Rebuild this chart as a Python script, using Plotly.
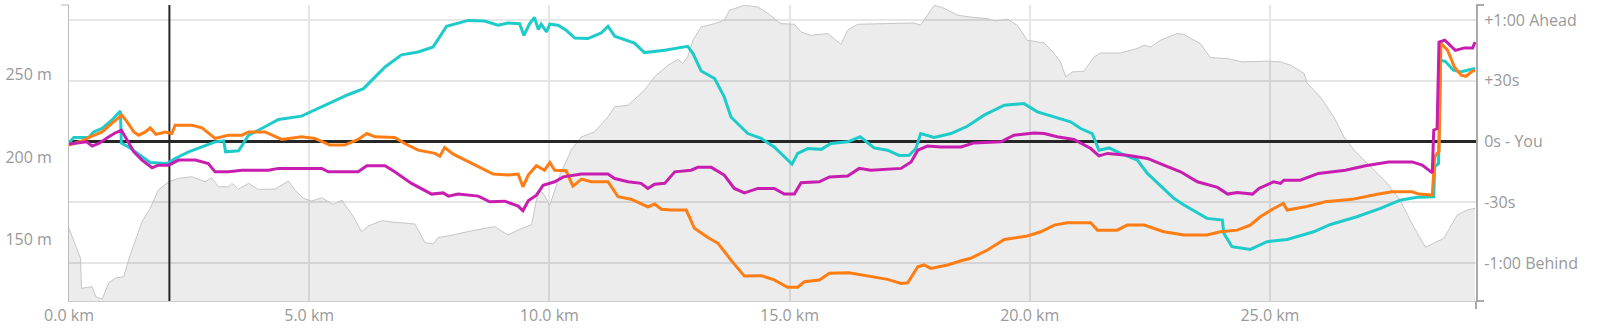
import plotly.graph_objects as go

# Elevation profile along the route
elev_km = [0.0, 0.24, 0.26, 0.48, 0.56, 0.69, 0.83, 0.96, 1.14, 1.24, 1.41, 1.52, 1.69, 1.86,
           2.07, 2.28, 2.56, 2.83, 2.97, 3.11, 3.32, 3.39, 3.53, 3.74, 3.94, 4.29, 4.39, 4.57,
           4.70, 4.88, 5.05, 5.26, 5.50, 5.68, 5.92, 6.09, 6.23, 6.51, 6.78, 7.20, 7.41, 7.58,
           7.69, 7.89, 8.38, 8.86, 9.14, 9.35, 9.63, 9.73, 9.80, 9.87, 10.01, 10.23, 10.47,
           10.67, 10.94, 11.22, 11.36, 11.64, 11.98, 12.19, 12.47, 12.68, 12.78, 12.88, 12.99,
           13.16, 13.44, 13.64, 13.75, 14.06, 14.34, 14.55, 14.82, 15.10, 15.24, 15.45, 15.79,
           16.07, 16.21, 16.42, 17.59, 17.73, 18.01, 18.19, 18.50, 18.84, 19.12, 19.26, 19.54,
           19.74, 19.95, 20.30, 20.51, 20.64, 20.75, 20.89, 21.13, 21.34, 21.48, 21.89, 22.10,
           22.24, 22.38, 22.52, 22.72, 22.93, 23.07, 23.20, 23.35, 23.55, 23.76, 24.11, 24.42,
           24.94, 25.22, 25.43, 25.71, 25.78, 26.05, 26.33, 26.54, 26.75, 27.10, 27.30, 27.44,
           27.71, 27.99, 28.24, 28.34, 28.62, 28.90, 29.10, 29.27]
elev_m = [156.8, 138.6, 120.4, 121.4, 115.3, 113.8, 123.8, 126.5, 127.5, 137.6, 151.7, 160.8, 168.9, 180.0,
          185.0, 187.1, 188.1, 185.0, 187.5, 182.0, 182.0, 184.1, 180.6, 184.1, 180.4, 180.6, 182.4, 185.5,
          180.0, 175.0, 173.3, 175.3, 171.3, 173.9, 163.8, 154.7, 158.2, 161.4, 160.5, 159.4, 148.1, 147.3,
          151.3, 152.1, 155.3, 157.8, 152.7, 155.8, 159.0, 174.0, 179.5, 178.0, 170.9, 190.0, 205.0,
          212.3, 215.3, 224.4, 230.5, 231.5, 240.6, 248.7, 255.8, 259.2, 256.8, 260.8, 270.9,
          279.0, 281.0, 283.0, 289.1, 292.1, 291.1, 287.1, 281.0, 280.6, 275.9, 273.9, 275.0,
          268.5, 277.0, 280.6, 281.4, 280.0, 292.1, 290.7, 286.1, 284.7, 284.1, 282.6, 283.6,
          280.0, 270.9, 269.3, 262.8, 257.8, 248.7, 251.7, 252.1, 260.8, 263.2, 263.2, 264.8,
          265.9, 267.9, 266.8, 270.9, 273.3, 275.0, 274.5, 271.9, 268.9, 260.4, 259.8, 257.8,
          258.2, 257.8, 255.8, 250.7, 244.7, 236.5, 224.4, 212.3, 204.2, 194.1, 188.1, 184.1,
          173.9, 157.8, 145.3, 146.7, 150.7, 164.9, 167.9, 168.9]

# Time gap to you (seconds, positive = ahead)
teal_km = [0.0, 0.10, 0.41, 0.51, 0.69, 0.89, 1.07, 1.09, 1.24, 1.45, 1.69, 2.04, 2.21, 2.49,
           2.77, 3.04, 3.22, 3.26, 3.53, 3.74, 4.01, 4.36, 4.84, 5.26, 5.82, 6.13, 6.30, 6.58,
           6.92, 7.27, 7.58, 7.86, 8.31, 8.65, 8.93, 9.14, 9.38, 9.47, 9.59, 9.69, 9.77, 9.83,
           9.94, 10.01, 10.18, 10.35, 10.53, 10.80, 11.08, 11.22, 11.36, 11.77, 11.98, 12.40,
           12.88, 12.99, 13.16, 13.44, 13.64, 13.78, 14.13, 14.41, 14.68, 14.89, 15.05, 15.17,
           15.38, 15.66, 15.86, 16.21, 16.47, 16.76, 17.04, 17.28, 17.49, 17.63, 17.73, 18.01,
           18.36, 18.70, 19.05, 19.47, 19.88, 20.16, 20.51, 20.85, 21.06, 21.30, 21.44, 21.65,
           21.89, 22.24, 22.45, 22.72, 23.00, 23.21, 23.69, 24.01, 24.04, 24.21, 24.59, 24.94,
           25.36, 25.91, 26.26, 26.81, 27.30, 27.71, 28.06, 28.41, 28.43, 28.51, 28.52, 28.55,
           28.65, 28.82, 28.96, 29.17, 29.27]
teal_gap = [-0.7, 2.0, 2.0, 4.7, 6.4, 10.5, 15.0, -0.8, -2.7, -6.3, -10.4, -10.9, -8.4, -5.1,
            -2.7, -0.2, 0.3, -5.1, -4.6, 3.1, 6.4, 10.9, 12.5, 17.1, 23.2, 26.1, 30.2, 36.8,
            42.8, 44.2, 46.7, 56.9, 59.8, 59.5, 57.4, 58.5, 58.2, 52.4, 58.2, 61.2, 55.3, 57.9,
            54.1, 57.9, 57.4, 54.9, 51.1, 50.8, 53.6, 56.9, 52.0, 48.6, 43.9, 45.0,
            47.0, 43.4, 34.8, 31.1, 22.0, 12.1, 3.9, 1.5, -2.7, -7.6, -11.2, -5.9,
            -3.5, -3.9, -1.0, -0.2, 2.3, -3.2, -4.3, -6.9, -6.8, -3.5, 3.9, 2.0,
            3.9, 7.5, 13.0, 17.9, 18.7, 14.6, 12.1, 9.7, 6.4, 3.9, -4.3, -3.2,
            -5.9, -9.2, -15.8, -21.6, -28.1, -31.4, -38.0, -38.8, -45.4, -52.0, -53.3, -49.5,
            -48.4, -44.6, -41.0, -37.2, -33.1, -29.0, -27.6, -27.3, -12.5, -10.9, 2.3, 40.1,
            39.6, 35.2, 34.3, 35.2, 36.0]

orange_km = [0.0, 0.10, 0.27, 0.44, 0.69, 0.89, 1.10, 1.21, 1.35, 1.45, 1.59, 1.69, 1.81, 2.00,
             2.14, 2.21, 2.56, 2.77, 3.04, 3.32, 3.60, 3.74, 4.08, 4.43, 4.84, 5.12, 5.43, 5.74,
             6.02, 6.20, 6.37, 6.78, 6.99, 7.27, 7.62, 7.72, 7.82, 8.00, 8.31, 8.59, 8.83, 9.14,
             9.35, 9.45, 9.56, 9.73, 9.90, 10.01, 10.11, 10.35, 10.49, 10.67, 10.87, 11.22,
             11.43, 11.70, 12.05, 12.19, 12.33, 12.54, 12.85, 13.02, 13.30, 13.51, 13.78, 14.06,
             14.41, 14.68, 14.96, 15.17, 15.31, 15.62, 15.83, 16.24, 16.42, 16.69, 17.04, 17.32,
             17.46, 17.67, 17.80, 17.94, 18.29, 18.57, 18.77, 19.12, 19.47, 19.95, 20.23, 20.51,
             20.78, 21.27, 21.41, 21.82, 22.03, 22.38, 22.58, 22.79, 23.21, 23.69, 23.97, 24.32,
             24.59, 24.80, 25.08, 25.28, 25.36, 25.74, 26.15, 26.71, 27.26, 27.54, 27.96, 28.10,
             28.38, 28.43, 28.48, 28.52, 28.56, 28.70, 28.84, 28.98, 29.08, 29.19, 29.27]
orange_gap = [-1.8, -1.0, 0.3, 2.3, 4.7, 8.9, 13.0, 9.7, 4.7, 3.1, 4.7, 6.7, 3.5, 4.7,
              3.9, 8.0, 8.0, 6.7, 1.5, 3.1, 3.1, 4.7, 4.7, 1.0, 2.3, 1.5, -1.8, -1.8,
              1.0, 3.9, 2.3, 2.0, -1.0, -4.3, -5.9, -7.3, -3.0, -6.3, -10.1, -13.3, -16.1, -16.6,
              -16.1, -22.4, -16.6, -12.0, -14.2, -10.4, -14.2, -14.5, -22.1, -18.6, -19.9, -19.9,
              -27.3, -28.5, -32.3, -30.9, -33.5, -33.9, -33.9, -42.9, -47.4, -50.3, -58.6, -66.5,
              -66.3, -68.4, -72.0, -72.0, -69.3, -68.4, -65.1, -64.8, -65.5, -66.8, -68.1, -70.1,
              -69.8, -61.9, -61.0, -62.7, -61.0, -58.9, -57.7, -53.6, -48.4, -46.7, -44.6, -41.3,
              -40.2, -40.2, -43.8, -43.8, -41.3, -41.3, -42.9, -44.6, -46.2, -46.2, -44.6, -43.8,
              -41.3, -37.2, -33.1, -30.6, -33.9, -32.3, -29.8, -28.6, -26.0, -24.9, -24.9, -26.0,
              -26.5, -7.6, -5.9, -5.0, 48.5, 45.0, 36.8, 32.7, 32.2, 34.3, 35.2]

magenta_km = [0.0, 0.27, 0.37, 0.48, 0.62, 0.83, 0.96, 1.09, 1.17, 1.35, 1.52, 1.73, 1.86, 2.07,
              2.28, 2.63, 2.90, 3.04, 3.32, 3.60, 4.15, 4.36, 5.26, 5.40, 6.02, 6.20, 6.58, 6.78,
              7.13, 7.55, 7.79, 7.90, 8.10, 8.52, 8.76, 9.07, 9.35, 9.45, 9.56, 9.73, 9.87, 10.11,
              10.29, 10.67, 11.22, 11.36, 11.64, 11.91, 12.05, 12.19, 12.40, 12.61, 12.95, 13.09,
              13.37, 13.64, 13.85, 14.06, 14.34, 14.68, 14.89, 15.10, 15.24, 15.62, 15.83, 16.21,
              16.45, 16.69, 17.32, 17.53, 17.67, 17.87, 18.15, 18.57, 18.84, 19.40, 19.67, 20.09,
              20.30, 20.57, 20.92, 21.27, 21.44, 21.62, 22.03, 22.45, 22.79, 23.14, 23.49, 23.91,
              24.12, 24.32, 24.64, 24.77, 25.08, 25.22, 25.29, 25.63, 26.01, 26.57, 26.99, 27.47,
              27.96, 28.17, 28.38, 28.41, 28.48, 28.52, 28.64, 28.70, 28.86, 29.05, 29.22, 29.27]
magenta_gap = [-1.3, -0.7, -0.2, -2.3, -1.0, 2.3, 4.2, 5.6, 2.3, -5.1, -9.2, -13.0, -11.7, -11.7,
               -9.2, -9.2, -10.9, -15.0, -15.0, -14.2, -14.2, -13.3, -13.3, -15.0, -15.0, -12.0, -12.0, -15.0,
               -20.7, -26.0, -25.4, -27.0, -26.0, -27.0, -29.8, -29.5, -31.9, -34.2, -29.3, -26.5, -21.6, -19.9,
               -17.5, -16.1, -16.1, -18.3, -19.9, -20.7, -23.2, -21.1, -20.7, -15.0, -14.2, -12.8,
               -12.8, -16.6, -23.2, -25.4, -23.2, -23.2, -26.0, -26.0, -20.4, -19.9, -17.5, -17.1,
               -13.3, -14.2, -13.3, -10.1, -4.3, -2.3, -2.7, -2.7, -0.7, -0.2, 3.1, 4.2,
               3.9, 2.3, 1.0, -3.5, -7.1, -5.9, -6.8, -8.4, -11.7, -15.0, -19.9, -22.7,
               -26.0, -25.2, -26.0, -23.2, -19.9, -20.7, -19.1, -19.1, -15.8, -14.2, -12.0, -10.1,
               -10.1, -11.7, -15.5, 5.6, 6.4, 49.1, 50.0, 48.6, 45.0, 46.2, 46.2, 49.1]

# Current position cursor
cursor_km = 2.09

x_ticks = [0, 5, 10, 15, 20, 25]
x_tick_text = ["0.0 km", "5.0 km", "10.0 km", "15.0 km", "20.0 km", "25.0 km"]
elev_ticks = [150, 200, 250]
elev_tick_text = ["150 m", "200 m", "250 m"]
gap_ticks = [60, 30, 0, -30, -60]
gap_tick_text = ["+1:00 Ahead", "+30s", "0s - You", "-30s", "-1:00 Behind"]

X_RANGE = [0, 29.29]
ELEV_RANGE = [112.7, 292.3]
GAP_RANGE = [-78.8, 67.4]

W, H = 1601, 334
M = dict(l=67, r=125, t=5, b=33)
plot_h = H - M["t"] - M["b"]
plot_w = W - M["l"] - M["r"]

fig = go.Figure()

# elevation area (semi-transparent so gridlines show through)
fig.add_trace(go.Scatter(
    x=elev_km, y=elev_m, mode="lines", fill="tozeroy",
    line=dict(color="#c6c6c6", width=1),
    fillcolor="rgba(0,0,0,0.075)", hoverinfo="skip", yaxis="y",
))

# "You" reference line and current-position cursor, drawn beneath the rivals
fig.add_trace(go.Scatter(x=X_RANGE, y=[0, 0], mode="lines", yaxis="y2",
                         line=dict(color="#262626", width=3), hoverinfo="skip"))
fig.add_trace(go.Scatter(x=[cursor_km, cursor_km], y=GAP_RANGE, mode="lines", yaxis="y2",
                         line=dict(color="#262626", width=2), hoverinfo="skip"))

for xs, ys, col in [(teal_km, teal_gap, "#1ecbcb"),
                    (orange_km, orange_gap, "#ff7d14"),
                    (magenta_km, magenta_gap, "#c81eb0")]:
    fig.add_trace(go.Scatter(x=xs, y=ys, mode="lines", yaxis="y2",
                             line=dict(color=col, width=3)))

shapes = [
    # axis end ticks
    dict(type="line", xref="paper", yref="paper", x0=-8 / plot_w, x1=0, y0=1, y1=1,
         line=dict(color="#bbbbbb", width=1)),
    dict(type="line", xref="paper", yref="paper", x0=1, x1=1 + 8 / plot_w, y0=1, y1=1,
         line=dict(color="#aaaaaa", width=2)),
    dict(type="line", xref="paper", yref="paper", x0=1, x1=1 + 8 / plot_w, y0=0, y1=0,
         line=dict(color="#aaaaaa", width=2)),
    dict(type="line", xref="paper", yref="paper", x0=1, x1=1, y0=-8 / plot_h, y1=0,
         line=dict(color="#aaaaaa", width=2)),
]

font = dict(family="Open Sans", size=16, color="#999999")

fig.update_layout(
    width=W, height=H, margin=M,
    paper_bgcolor="white", plot_bgcolor="white",
    showlegend=False, font=font, shapes=shapes,
    xaxis=dict(range=X_RANGE, tickvals=x_ticks, ticktext=x_tick_text,
               showgrid=True, gridcolor="#e6e6e6", gridwidth=1.5,
               showline=True, linecolor="#cccccc", linewidth=1,
               zeroline=False, ticks="", tickfont=font),
    yaxis=dict(range=ELEV_RANGE, tickvals=elev_ticks, ticktext=elev_tick_text,
               showgrid=False, zeroline=False, showline=True,
               linecolor="#bbbbbb", linewidth=1, ticks="",
               ticklabelstandoff=13, tickfont=font),
    yaxis2=dict(range=GAP_RANGE, tickvals=gap_ticks, ticktext=gap_tick_text,
                overlaying="y", side="right", showgrid=True,
                gridcolor="#e6e6e6", gridwidth=1.5, zeroline=False,
                showline=True, linecolor="#aaaaaa", linewidth=2, ticks="",
                ticklabelstandoff=3, tickfont=font),
)

fig.write_html("out.html")
